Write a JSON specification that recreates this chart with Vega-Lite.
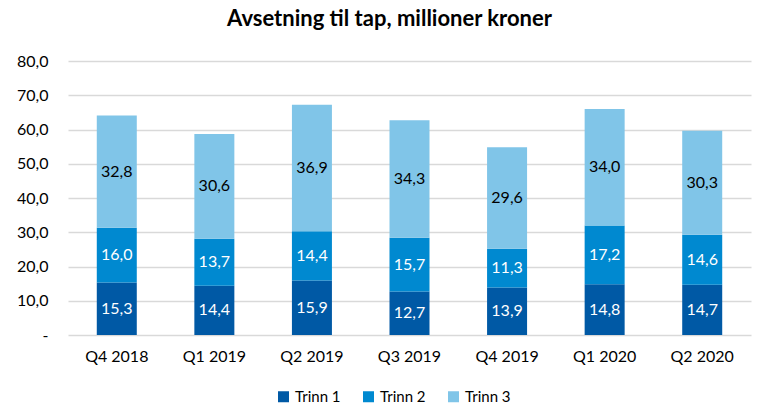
{
  "$schema": "https://vega.github.io/schema/vega-lite/v6.json",
  "width": 683,
  "height": 274,
  "autosize": {"type": "none"},
  "padding": {"left": 68, "top": 61, "right": 7, "bottom": 70},
  "background": "white",
  "config": {
    "locale": {"number": {"decimal": ",", "thousands": " ", "grouping": [3], "currency": ["", " kr"]}},
    "font": "Lato",
    "view": {"stroke": null},
    "axisY": {
      "title": null,
      "values": [0, 10, 20, 30, 40, 50, 60, 70, 80],
      "labelOverlap": false,
      "labelExpr": "datum.value === 0 ? '-' : format(datum.value, '.1f')",
      "labelFontSize": 16,
      "labelColor": "#000000",
      "labelPadding": 20,
      "ticks": false,
      "domain": false,
      "grid": true,
      "gridColor": "#D9D9D9",
      "gridWidth": 1.5
    }
  },
  "title": {
    "text": "Avsetning til tap, millioner kroner",
    "fontSize": 22,
    "fontWeight": "bold",
    "font": "Lato",
    "color": "#000000",
    "anchor": "middle",
    "dx": -20,
    "offset": 22
  },
  "data": {
    "values": [
      {"kvartal": "Q4 2018", "trinn": "Trinn 1", "verdi": 15.3},
      {"kvartal": "Q4 2018", "trinn": "Trinn 2", "verdi": 16.0},
      {"kvartal": "Q4 2018", "trinn": "Trinn 3", "verdi": 32.8},
      {"kvartal": "Q1 2019", "trinn": "Trinn 1", "verdi": 14.4},
      {"kvartal": "Q1 2019", "trinn": "Trinn 2", "verdi": 13.7},
      {"kvartal": "Q1 2019", "trinn": "Trinn 3", "verdi": 30.6},
      {"kvartal": "Q2 2019", "trinn": "Trinn 1", "verdi": 15.9},
      {"kvartal": "Q2 2019", "trinn": "Trinn 2", "verdi": 14.4},
      {"kvartal": "Q2 2019", "trinn": "Trinn 3", "verdi": 36.9},
      {"kvartal": "Q3 2019", "trinn": "Trinn 1", "verdi": 12.7},
      {"kvartal": "Q3 2019", "trinn": "Trinn 2", "verdi": 15.7},
      {"kvartal": "Q3 2019", "trinn": "Trinn 3", "verdi": 34.3},
      {"kvartal": "Q4 2019", "trinn": "Trinn 1", "verdi": 13.9},
      {"kvartal": "Q4 2019", "trinn": "Trinn 2", "verdi": 11.3},
      {"kvartal": "Q4 2019", "trinn": "Trinn 3", "verdi": 29.6},
      {"kvartal": "Q1 2020", "trinn": "Trinn 1", "verdi": 14.8},
      {"kvartal": "Q1 2020", "trinn": "Trinn 2", "verdi": 17.2},
      {"kvartal": "Q1 2020", "trinn": "Trinn 3", "verdi": 34.0},
      {"kvartal": "Q2 2020", "trinn": "Trinn 1", "verdi": 14.7},
      {"kvartal": "Q2 2020", "trinn": "Trinn 2", "verdi": 14.6},
      {"kvartal": "Q2 2020", "trinn": "Trinn 3", "verdi": 30.3}
    ]
  },
  "transform": [
    {"calculate": "datum.trinn === 'Trinn 1' ? 1 : datum.trinn === 'Trinn 2' ? 2 : 3", "as": "rekkefolge"},
    {"stack": "verdi", "groupby": ["kvartal"], "sort": [{"field": "rekkefolge", "order": "ascending"}], "as": ["y0", "y1"]},
    {"calculate": "(datum.y0 + datum.y1) / 2", "as": "ymid"}
  ],
  "encoding": {
    "x": {
      "field": "kvartal",
      "type": "nominal",
      "sort": ["Q4 2018", "Q1 2019", "Q2 2019", "Q3 2019", "Q4 2019", "Q1 2020", "Q2 2020"],
      "scale": {"paddingInner": 0.59, "paddingOuter": 0.295},
      "axis": {
        "title": null,
        "labelAngle": 0,
        "labelFontSize": 16,
        "labelColor": "#000000",
        "labelPadding": 13,
        "ticks": false,
        "domain": false
      }
    }
  },
  "layer": [
    {
      "mark": {"type": "bar"},
      "encoding": {
        "y": {
          "field": "y0",
          "type": "quantitative",
          "title": null,
          "scale": {"domain": [0, 80], "nice": false}
        },
        "y2": {"field": "y1"},
        "color": {
          "field": "trinn",
          "type": "nominal",
          "scale": {"domain": ["Trinn 1", "Trinn 2", "Trinn 3"], "range": ["#0059A5", "#0089D0", "#80C5E8"]},
          "legend": {
            "title": null,
            "orient": "none",
            "direction": "horizontal",
            "legendX": 208,
            "legendY": 328,
            "symbolType": "square",
            "symbolSize": 121,
            "symbolStrokeWidth": 0,
            "labelFontSize": 15,
            "labelColor": "#000000",
            "columnPadding": 20,
            "labelOffset": 4
          }
        }
      }
    },
    {
      "mark": {"type": "text", "fontSize": 16, "baseline": "middle", "align": "center"},
      "encoding": {
        "y": {"field": "ymid", "type": "quantitative", "title": null},
        "text": {"field": "verdi", "type": "quantitative", "format": ".1f"},
        "color": {
          "condition": {"test": "datum.trinn === 'Trinn 3'", "value": "#000000"},
          "value": "#FFFFFF"
        }
      }
    }
  ]
}
